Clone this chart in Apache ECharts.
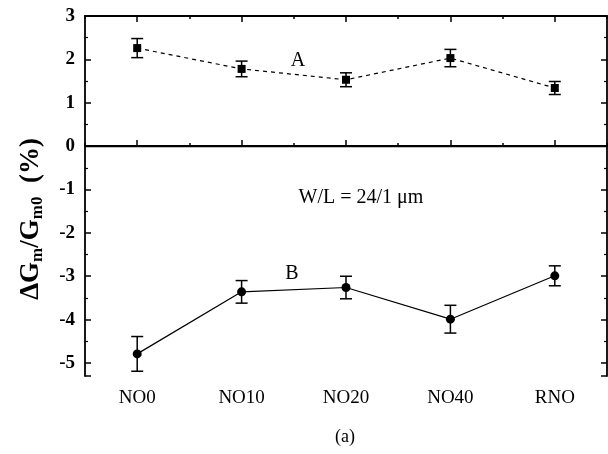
<!DOCTYPE html>
<html>
<head>
<meta charset="utf-8">
<script src="https://cdn.jsdelivr.net/npm/echarts@6/dist/echarts.min.js"></script>
<style>
html, body { margin: 0; padding: 0; background: #fff; }
#chart { width: 608px; height: 454px; }
</style>
</head>
<body>
<div id="chart"></div>
<script>
// samples along the x axis
var categories = ["NO0", "NO10", "NO20", "NO40", "RNO"];
// curve A (dashed, squares) and its error half-widths
var valuesA = [2.26, 1.78, 1.53, 2.03, 1.34];
var errorsA = [0.22, 0.18, 0.16, 0.20, 0.15];
// curve B (solid, circles) and its error half-widths
var valuesB = [-4.79, -3.36, -3.26, -3.99, -2.99];
var errorsB = [0.40, 0.26, 0.26, 0.32, 0.23];
var yMin = -5.3;
var yMax = 3;

var font = "Liberation Serif";

function errorData(values, errors) {
  return values.map(function (v, i) {
    return [i, v - errors[i], v + errors[i]];
  });
}

function renderErrorBar(params, api) {
  var lo = api.coord([api.value(0), api.value(1)]);
  var hi = api.coord([api.value(0), api.value(2)]);
  var half = 6;
  var style = { stroke: "#000", lineWidth: 1.5 };
  return {
    type: "group",
    children: [
      { type: "line", shape: { x1: lo[0], y1: lo[1], x2: hi[0], y2: hi[1] }, style: style },
      { type: "line", shape: { x1: lo[0] - half, y1: lo[1], x2: lo[0] + half, y2: lo[1] }, style: style },
      { type: "line", shape: { x1: hi[0] - half, y1: hi[1], x2: hi[0] + half, y2: hi[1] }, style: style }
    ]
  };
}

var axisLine = { show: true, lineStyle: { color: "#000", width: 1.8 } };

function catAxis(pos, major, labels) {
  return {
    type: "category",
    position: pos,
    data: categories,
    boundaryGap: true,
    axisLine: major ? axisLine : { show: false },
    axisTick: {
      show: true,
      inside: true,
      alignWithLabel: major,
      length: major ? 6 : 3,
      lineStyle: { color: "#000", width: 1.5 }
    },
    axisLabel: {
      show: labels,
      color: "#000",
      fontFamily: font,
      fontSize: 19,
      margin: 13
    },
    splitLine: { show: false }
  };
}

function valAxis(pos, labels) {
  return {
    type: "value",
    position: pos,
    min: yMin,
    max: yMax,
    splitNumber: 8,
    axisLine: axisLine,
    axisTick: { show: true, inside: true, length: 6, lineStyle: { color: "#000", width: 1.5 } },
    minorTick: { show: true, splitNumber: 2, length: 3, lineStyle: { color: "#000", width: 1.2 } },
    axisLabel: {
      show: labels,
      showMinLabel: false,
      color: "#000",
      fontFamily: font,
      fontSize: 19,
      fontWeight: "bold",
      margin: 10
    },
    splitLine: { show: false },
    minorSplitLine: { show: false }
  };
}

var chart = echarts.init(document.getElementById("chart"));
chart.setOption({
  animation: false,
  backgroundColor: "#fff",
  grid: { left: 85, right: 1, top: 16, bottom: 78 },
  xAxis: [
    catAxis("bottom", true, true),
    catAxis("bottom", false, false),
    catAxis("top", true, false),
    catAxis("top", false, false)
  ],
  yAxis: [valAxis("left", true), valAxis("right", false)],
  series: [
    {
      name: "A",
      type: "line",
      data: valuesA,
      symbol: "rect",
      symbolSize: 8,
      itemStyle: { color: "#000" },
      lineStyle: { color: "#000", width: 1.2, type: [4, 4] },
      z: 3,
      markLine: {
        silent: true,
        symbol: "none",
        label: { show: false },
        lineStyle: { color: "#000", width: 1.3, type: "solid" },
        data: [{ yAxis: 0 }]
      }
    },
    {
      name: "B",
      type: "line",
      data: valuesB,
      symbol: "circle",
      symbolSize: 9,
      itemStyle: { color: "#000" },
      lineStyle: { color: "#000", width: 1.2 },
      z: 3
    },
    {
      type: "custom",
      data: errorData(valuesA, errorsA),
      renderItem: renderErrorBar,
      z: 2
    },
    {
      type: "custom",
      data: errorData(valuesB, errorsB),
      renderItem: renderErrorBar,
      z: 2
    }
  ],
  graphic: [
    {
      type: "text",
      x: 31,
      y: 219,
      rotation: Math.PI / 2,
      style: {
        text: "{m|ΔG}{s|m}{m|/G}{s|m0}{m|  (%)}",
        align: "center",
        verticalAlign: "middle",
        rich: {
          m: { fontFamily: font, fontSize: 27, fontWeight: "bold", fill: "#000", lineHeight: 30 },
          s: { fontFamily: font, fontSize: 17, fontWeight: "bold", fill: "#000", lineHeight: 14, verticalAlign: "bottom" }
        }
      }
    },
    { type: "text", x: 298, y: 61, style: { text: "A", fontFamily: font, fontSize: 20, fill: "#000", align: "center", verticalAlign: "middle" } },
    { type: "text", x: 292, y: 274, style: { text: "B", fontFamily: font, fontSize: 20, fill: "#000", align: "center", verticalAlign: "middle" } },
    { type: "text", x: 361, y: 198, style: { text: "W/L = 24/1 μm", fontFamily: font, fontSize: 20, fill: "#000", align: "center", verticalAlign: "middle" } },
    { type: "text", x: 345, y: 437, style: { text: "(a)", fontFamily: font, fontSize: 18, fill: "#000", align: "center", verticalAlign: "middle" } }
  ]
});
</script>
</body>
</html>
